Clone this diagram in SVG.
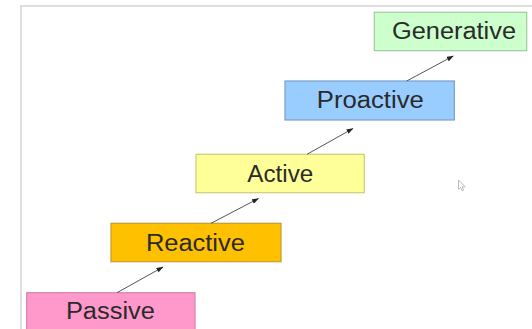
<svg xmlns="http://www.w3.org/2000/svg" width="532" height="329" viewBox="0 0 532 329">
<defs>
<style>
.box{stroke-width:1.2}
.lbl{font-family:"Liberation Sans",Arial,sans-serif;font-size:23px;fill:#2a2a2a;text-anchor:middle}
.conn{stroke:#555;stroke-width:1;fill:none;marker-end:url(#ah)}
</style>
<marker id="ah" markerWidth="7" markerHeight="5" refX="6.5" refY="2.5" orient="auto" markerUnits="userSpaceOnUse">
<path d="M0,0 L7,2.5 L0,5 Z" fill="#222"/>
</marker>
</defs>
<rect width="532" height="329" fill="#fff"/>
<path d="M21,329 V6 H532" fill="none" stroke="#dedede" stroke-width="2"/>
<g id="passive">
<rect class="box" x="26.7" y="292.7" width="168.3" height="40" fill="#ff99cc" stroke="#d484aa"/>
<text class="lbl" x="110.4" y="319.3" textLength="89" lengthAdjust="spacingAndGlyphs">Passive</text>
</g>
<g id="reactive">
<rect class="box" x="111" y="223.3" width="170" height="38.4" fill="#ffc000" stroke="#c89a2a"/>
<text class="lbl" x="195.4" y="251" textLength="99" lengthAdjust="spacingAndGlyphs">Reactive</text>
</g>
<g id="active">
<rect class="box" x="196" y="154.3" width="168.3" height="38.4" fill="#ffff99" stroke="#cccc77"/>
<text class="lbl" x="280.3" y="181.7" textLength="66" lengthAdjust="spacingAndGlyphs">Active</text>
</g>
<g id="proactive">
<rect class="box" x="285" y="81" width="169.3" height="39" fill="#99ccff" stroke="#7a9ec8"/>
<text class="lbl" x="370.3" y="107.7" textLength="107" lengthAdjust="spacingAndGlyphs">Proactive</text>
</g>
<g id="generative">
<rect class="box" x="374.3" y="12.3" width="152.4" height="38.4" fill="#ccffcc" stroke="#a4c8a4"/>
<text class="lbl" x="454" y="39.3" textLength="124" lengthAdjust="spacingAndGlyphs">Generative</text>
</g>
<g id="connectors">
<line class="conn" x1="117" y1="292.7" x2="163" y2="267"/>
<line class="conn" x1="211" y1="223.3" x2="258.5" y2="198.5"/>
<line class="conn" x1="307" y1="154.3" x2="353" y2="128.5"/>
<line class="conn" x1="406.7" y1="81" x2="453.3" y2="56"/>
</g>
<path d="M458.5,180 L458.5,189.5 L460.7,187.4 L462.2,190.8 L463.6,190.2 L462.2,186.9 L465.2,186.9 Z" fill="#fff" stroke="#aaa" stroke-width="0.8"/>
</svg>
